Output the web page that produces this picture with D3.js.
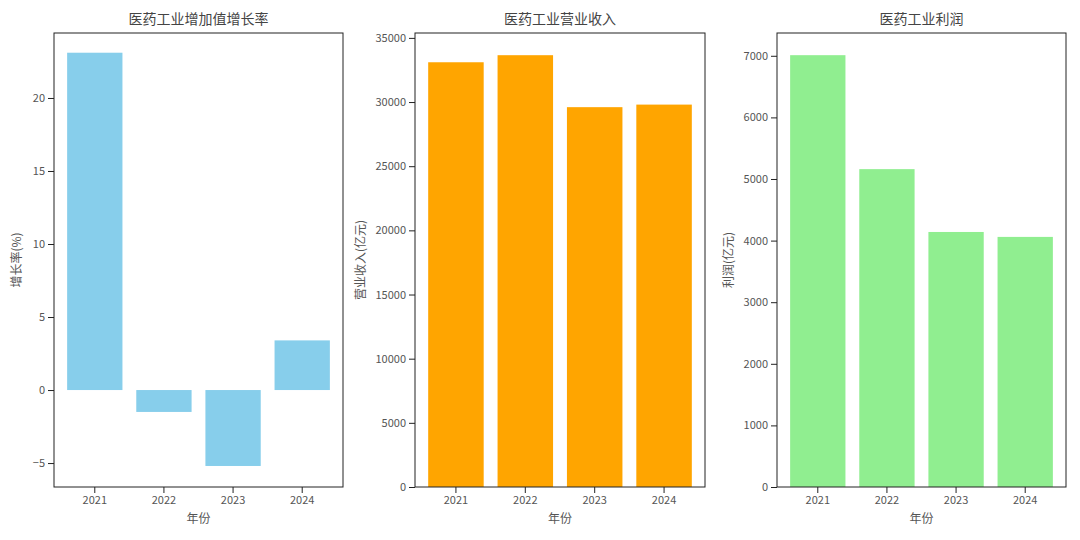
<!DOCTYPE html>
<html><head><meta charset="utf-8">
<script src="https://cdn.jsdelivr.net/npm/d3@7"></script>
<style>body{margin:0;background:#fff}text{font-family:"Noto Sans CJK SC",sans-serif}</style>
</head><body><svg id="c" width="1080" height="540"></svg>
<script>
var years = ["2021", "2022", "2023", "2024"];
var growth = [23.1, -1.5, -5.2, 3.4];
var revenue = [33100, 33650, 29600, 29800];
var profit = [7010, 5160, 4140, 4060];

var svg = d3.select("#c");
var plotTop = 33, plotBottom = 487;

function panel(x0, x1, data, domain, ticks, color, title, ylab) {
  var x = d3.scaleBand().domain(years).range([x0, x1]).paddingInner(0.2).paddingOuter(0.19);
  var y = d3.scaleLinear().domain(domain).range([plotBottom, plotTop]);
  var g = svg.append("g");
  g.selectAll("rect").data(data).enter().append("rect")
    .attr("x", function(d, i) { return x(years[i]); })
    .attr("width", x.bandwidth())
    .attr("y", function(d) { return y(Math.max(0, d)); })
    .attr("height", function(d) { return Math.abs(y(d) - y(0)); })
    .attr("fill", color);
  g.append("rect").attr("x", x0).attr("y", plotTop).attr("width", x1 - x0).attr("height", plotBottom - plotTop)
    .attr("fill", "none").attr("stroke", "#222").attr("stroke-width", 1);
  var ax = g.append("g").attr("transform", "translate(0," + plotBottom + ")").call(d3.axisBottom(x).tickSizeOuter(0));
  var ay = g.append("g").attr("transform", "translate(" + x0 + ",0)")
    .call(d3.axisLeft(y).tickValues(ticks).tickSizeOuter(0).tickFormat(function(d) { return d < 0 ? "\u2212" + (-d) : d; }));
  [ax, ay].forEach(function(a) {
    a.select(".domain").remove();
    a.selectAll("text").attr("font-size", 11).attr("fill", "#555");
    a.selectAll("line").attr("stroke", "#222");
  });
  g.append("text").attr("x", (x0 + x1) / 2).attr("y", 24).attr("text-anchor", "middle")
    .attr("font-size", 14).attr("fill", "#444").text(title);
  g.append("text").attr("x", (x0 + x1) / 2).attr("y", 523).attr("text-anchor", "middle")
    .attr("font-size", 12).attr("fill", "#555").text("年份");
  g.append("text").attr("transform", "translate(" + (x0 - ylab.off) + "," + ((plotTop + plotBottom) / 2) + ") rotate(-90)")
    .attr("text-anchor", "middle").attr("font-size", 12).attr("fill", "#555").text(ylab.t);
}

panel(54, 343, growth, [-6.64, 24.45], [-5, 0, 5, 10, 15, 20], "#87ceeb", "医药工业增加值增长率", {t: "增长率(%)", off: 33});
panel(415, 705, revenue, [0, 35380], d3.range(0, 35001, 5000), "#ffa500", "医药工业营业收入", {t: "营业收入(亿元)", off: 50});
panel(777, 1066, profit, [0, 7370], d3.range(0, 7001, 1000), "#90ee90", "医药工业利润", {t: "利润(亿元)", off: 44});
</script></body></html>
